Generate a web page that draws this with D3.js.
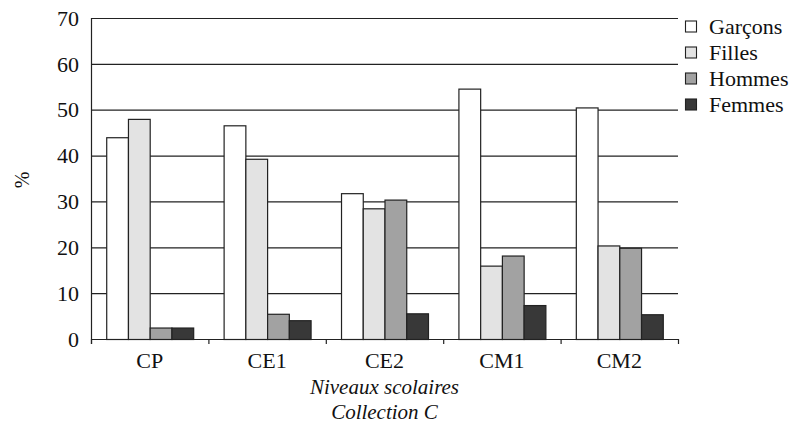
<!DOCTYPE html>
<html><head><meta charset="utf-8">
<script src="https://cdn.jsdelivr.net/npm/d3@7"></script>
<style>
body{margin:0;background:#fff;}
</style></head><body>
<svg id="c" width="801" height="425"></svg>
<script>
const categories = ["CP","CE1","CE2","CM1","CM2"];
const seriesNames = ["Garçons","Filles","Hommes","Femmes"];
const garcons = [44, 46.6, 31.8, 54.6, 50.5];
const filles  = [48, 39.3, 28.5, 16.0, 20.4];
const hommes  = [2.5, 5.5, 30.4, 18.2, 19.9];
const femmes  = [2.5, 4.1, 5.6, 7.4, 5.4];
const yTicks = [0,10,20,30,40,50,60,70];
const colors = ["#ffffff","#e3e3e3","#a2a2a2","#383838"];
const values = [garcons, filles, hommes, femmes];
const FONT = '"Liberation Serif", "Times New Roman", Times, "Nimbus Roman", FreeSerif, "Noto Serif CJK SC", serif';

const svg = d3.select("#c");
const L=91, R=678, T=18, B=339;
const x = d3.scaleBand().domain(categories).range([L,R]).paddingInner(0).paddingOuter(0);
const xs = d3.scaleBand().domain(seriesNames).range([0,x.bandwidth()]).paddingOuter(0.7).paddingInner(0);
const y = d3.scaleLinear().domain([0,70]).range([B,T]);

// grid lines
svg.append("g").selectAll("line").data(yTicks.filter(d=>d>0)).join("line")
  .attr("x1",L).attr("x2",R).attr("y1",d=>y(d)+0.5).attr("y2",d=>y(d)+0.5)
  .attr("stroke","#222").attr("stroke-width",1.2);

// bars
const g = svg.append("g");
seriesNames.forEach((s,i)=>{
  g.selectAll(null).data(categories).join("rect")
    .attr("x",c=>x(c)+xs(s)+0.5)
    .attr("y",(c,j)=>y(values[i][j])+0.5)
    .attr("width",xs.bandwidth())
    .attr("height",(c,j)=>B-y(values[i][j]))
    .attr("fill",colors[i]).attr("stroke","#222").attr("stroke-width",1.2);
});

// x axis
const xa = svg.append("g");
xa.append("line").attr("x1",L).attr("x2",R).attr("y1",B+0.5).attr("y2",B+0.5).attr("stroke","#222").attr("stroke-width",1.2);
const bounds = categories.map(c=>x(c)).concat([R]);
xa.selectAll("line.t").data(bounds).join("line").attr("class","t")
  .attr("x1",d=>d+0.5).attr("x2",d=>d+0.5).attr("y1",B).attr("y2",B+5).attr("stroke","#222").attr("stroke-width",1.2);
xa.selectAll("text").data(categories).join("text")
  .attr("x",c=>x(c)+x.bandwidth()/2).attr("y",368).attr("text-anchor","middle")
  .style("font-family",FONT).style("font-size","22px").attr("fill","#111").text(d=>d);
// y axis line
svg.append("line").attr("x1",L+0.5).attr("x2",L+0.5).attr("y1",T).attr("y2",B+5).attr("stroke","#222").attr("stroke-width",1.2);
svg.append("g").selectAll("text").data(yTicks).join("text")
  .attr("x",79).attr("y",d=>y(d)).attr("dy","0.35em").attr("text-anchor","end")
  .style("font-family",FONT).style("font-size","22px").attr("fill","#111").text(d=>d);

// axis titles
svg.append("text").attr("transform","translate(29,180) rotate(-90)").attr("text-anchor","middle")
  .style("font-family",FONT).style("font-size","20px").attr("fill","#111").text("%");
svg.append("text").attr("x",(L+R)/2).attr("y",394).attr("text-anchor","middle")
  .style("font-family",FONT).style("font-size","21px").style("font-style","italic").attr("fill","#111").text("Niveaux scolaires");
svg.append("text").attr("x",(L+R)/2).attr("y",419).attr("text-anchor","middle")
  .style("font-family",FONT).style("font-size","21px").style("font-style","italic").attr("fill","#111").text("Collection C");

// legend
const lg = svg.append("g").selectAll("g").data(seriesNames).join("g")
  .attr("transform",(d,i)=>`translate(685,${26.5+i*26})`);
lg.append("rect").attr("x",0.5).attr("y",-5.5).attr("width",11).attr("height",11)
  .attr("fill",(d,i)=>colors[i]).attr("stroke","#222").attr("stroke-width",1.1);
lg.append("text").attr("x",24).attr("dy","0.35em").style("font-family",FONT).style("font-size","22px").attr("fill","#111").text(d=>d);
</script></body></html>
